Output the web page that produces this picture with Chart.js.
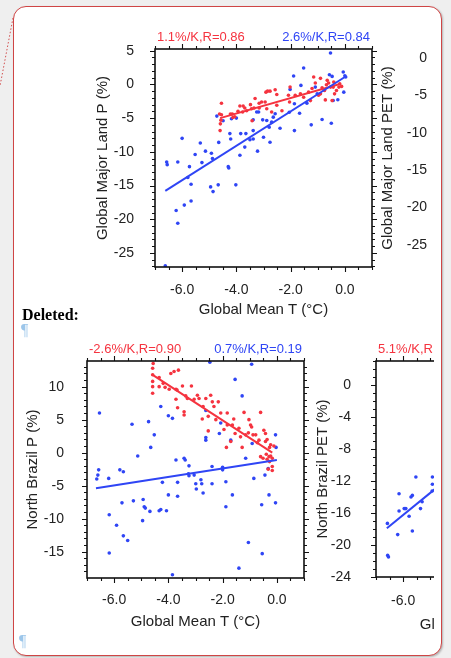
<!DOCTYPE html>
<html>
<head>
<meta charset="utf-8">
<script src="https://cdn.jsdelivr.net/npm/chart.js@4.4.0/dist/chart.umd.min.js"></script>
<style>
  body { margin: 0; background: #efefef; }
  #page { position: relative; width: 451px; height: 658px; overflow: hidden; background: #efefef; }
  .box { position: absolute; left: 13px; top: 6px; width: 427px; height: 648px; background: #fff;
         border: 1px solid #cf4545; border-radius: 13px; box-shadow: 1px 1px 2px rgba(0,0,0,0.25); }
  .deleted { position: absolute; left: 22px; top: 306px; font: bold 16px "Liberation Serif", "Times New Roman", serif; color: #000; }
  .pil { position: absolute; font: 16px "Liberation Serif", serif; color: #9cc6ea; }
  canvas { position: absolute; }
  #wrap3 { position: absolute; left: 300px; top: 330px; width: 134px; height: 328px; overflow: hidden; }
</style>
</head>
<body>
<div id="page">
  <div class="box"></div>
  <svg width="451" height="658" style="position:absolute;left:0;top:0">
    <line x1="13" y1="18" x2="0" y2="86" stroke="#d25050" stroke-width="1" stroke-dasharray="1.5 2"/>
  </svg>
  <canvas id="c1" width="451" height="330" style="left:0;top:0"></canvas>
  <div class="deleted">Deleted:</div>
  <div class="pil" style="left:21px;top:321px">¶</div>
  <canvas id="c2" width="451" height="328" style="left:0;top:330px"></canvas>
  <div id="wrap3"><canvas id="c3" width="300" height="328" style="left:0;top:0"></canvas></div>
  <div class="pil" style="left:19px;top:632px">¶</div>
</div>
<script>
const RED = '#f5333f';
const BLUE = '#2f45f5';
const FONT = '"Liberation Sans", Arial, Helvetica, sans-serif';

const xTicks = [-6, -4, -2, 0];

// Global major land
const gmlPTicks = [5, 0, -5, -10, -15, -20, -25];
const gmlPetTicks = [0, -5, -10, -15, -20, -25];
const gmlNotes = ['1.1%/K,R=0.86', '2.6%/K,R=0.84'];
const gmlRed = [[-4.55,-2.8],[-4.62,-4.4],[-4.55,-4.5],[-4.59,-5.85],[-4.6,-6.85],[-4.57,-5.3],[-4.22,-4.4],[-4.15,-4.4],
  [-4.13,-4.9],[-4.06,-4.8],[-3.94,-4.0],[-3.87,-3.2],[-3.75,-3.2],[-3.77,-4.1],[-3.69,-3.5],[-3.62,-3.9],[-3.48,-3.0],
  [-3.42,-5.4],[-3.35,-3.5],[-3.31,-2.1],[-3.16,-3.5],[-3.44,-3.6],[-3.16,-2.8],[-3.07,-2.6],[-2.94,-2.6],[-2.91,-1.15],
  [-2.85,-1.0],[-2.76,-1.0],[-2.57,-0.8],[-2.88,-3.6],[-2.7,-4.1],[-2.51,-1.5],[-2.51,-3.1],[-2.32,-3.9],[-2.08,-1.6],
  [-2.02,-0.4],[-2.04,-2.6],[-1.83,-1.6],[-1.64,-1.4],[-1.52,-1.9],[-1.34,-1.15],[-1.27,-2.4],[-1.21,-0.6],[-1.15,1.1],
  [-1.09,0.2],[-0.97,-1.6],[-0.9,-1.4],[-0.9,0.9],[-0.84,-0.5],[-0.75,-0.9],[-0.72,-2.3],[-0.68,-0.05],[-0.65,0.6],
  [-0.6,0.2],[-0.53,-0.4],[-0.47,-2.4],[-0.43,-0.4],[-0.41,0.35],[-0.38,-1.4],[-0.31,-0.9],[-0.22,-0.4],[-0.19,0.1],[-0.12,-0.3]];
const gmlBlue = [[-6.62,-26.9],[-6.57,-11.5],[-6.55,-11.9],[-6.16,-11.5],[-6.22,-18.7],[-6.16,-20.6],[-6.0,-8.0],
  [-5.92,-17.9],[-5.79,-13.8],[-5.73,-12.2],[-5.67,-14.8],[-5.67,-17.3],[-5.52,-10.4],[-5.33,-8.7],[-5.27,-11.6],
  [-5.14,-9.9],[-4.95,-15.2],[-4.92,-10.2],[-4.88,-11.0],[-4.86,-15.9],[-4.72,-4.7],[-4.67,-14.9],[-4.65,-8.6],
  [-4.49,-5.4],[-4.3,-12.2],[-4.28,-12.4],[-4.24,-7.3],[-4.21,-8.1],[-4.18,-5.1],[-4.02,-14.9],[-4.0,-5.0],[-3.87,-10.5],
  [-3.84,-7.3],[-3.65,-7.3],[-3.69,-9.3],[-3.25,-4.1],[-3.18,-4.1],[-3.38,-6.85],[-3.38,-8.1],[-3.22,-9.9],[-3.5,-8.2],
  [-3.38,-5.26],[-3.03,-5.26],[-3.0,-7.84],[-2.88,-5.36],[-2.79,-6.35],[-2.76,-8.58],[-2.7,-5.6],[-2.64,-4.86],
  [-2.57,-4.36],[-2.39,-6.5],[-2.05,-4.12],[-1.67,-4.27],[-1.86,-6.85],[-1.86,-2.87],[-1.4,-2.78],[-2.02,-0.74],
  [-1.89,1.24],[-1.62,-0.15],[-1.52,2.43],[-1.24,-6.0],[-1.09,-0.4],[-1.02,-1.38],[-0.84,-5.2],[-0.57,1.44],[-0.53,4.66],
  [-0.5,-5.76],[-0.47,1.19],[-0.43,-2.38],[-0.26,-2.28],[-0.06,1.83],[0.0,1.29],[0.03,1.09],[-0.04,-1.15]];
const gmlRedFit = [[-4.6,-5.0],[-0.15,0.1]];
const gmlBlueFit = [[-6.62,-15.8],[0.0,1.1]];

// North Brazil
const nbPTicks = [10, 5, 0, -5, -10, -15];
const nbPetTicks = [0, -4, -8, -12, -16, -20, -24];
const nbNotes = ['-2.6%/K,R=0.90', '0.7%/K,R=0.19'];
const nbPetNotes = ['5.1%/K,R'];
const nbRed = [[-4.56,13.5],[-4.58,12.8],[-4.58,11.8],[-4.58,10.8],[-4.58,10.0],[-4.58,9.0],[-4.34,11.4],[-4.34,10.0],
  [-4.19,10.5],[-4.12,9.9],[-3.97,9.6],[-3.91,12.0],[-3.79,12.3],[-3.63,12.5],[-3.72,9.6],[-3.68,9.5],[-3.72,8.1],
  [-3.66,6.8],[-3.42,6.2],[-3.42,5.7],[-3.48,10.1],[-3.36,8.6],[-3.3,8.2],[-3.15,10.1],[-3.05,8.1],[-2.93,8.7],[-2.87,8.2],
  [-2.75,5.1],[-2.72,7.0],[-2.62,8.2],[-2.53,5.5],[-2.44,8.7],[-2.38,7.7],[-2.53,3.3],[-2.32,7.0],[-2.16,7.7],[-2.25,5.0],
  [-2.07,6.0],[-1.95,3.5],[-1.83,4.2],[-1.64,4.2],[-1.83,6.0],[-1.59,5.1],[-1.86,0.8],[-1.7,1.7],[-1.54,2.9],[-1.4,3.7],
  [-1.34,2.4],[-1.28,0.8],[-1.21,6.1],[-1.03,5.0],[-1.15,2.7],[-1.05,3.0],[-0.97,4.2],[-0.93,3.9],[-0.88,2.7],[-0.78,2.7],
  [-0.72,1.5],[-0.66,1.9],[-0.6,6.1],[-0.6,-0.6],[-0.51,-0.85],[-0.48,3.4],[-0.42,2.9],[-0.42,1.7],[-0.36,2.0],
  [-0.39,-0.25],[-0.36,-1.0],[-0.29,-0.6],[-0.23,-0.5],[-0.17,-0.85],[-0.27,-1.35],[-0.17,-2.1],[-0.32,-2.5],[-0.17,-2.7],
  [-0.27,0.8],[-0.23,1.2],[-0.11,1.0]];
const nbBlue = [[-6.54,6.0],[-6.57,-2.6],[-6.6,-3.4],[-6.64,-4.0],[-6.2,-3.9],[-6.18,-9.4],[-6.18,-15.2],[-5.91,-11.0],
  [-5.79,-2.6],[-5.66,-2.9],[-5.71,-7.6],[-5.66,-12.6],[-5.5,-13.3],[-5.34,4.3],[-5.29,-7.3],[-5.13,-0.5],[-4.93,-7.1],
  [-4.89,-8.2],[-4.85,-8.4],[-4.95,-10.3],[-4.73,4.7],[-4.68,-8.9],[-4.65,0.8],[-4.52,2.7],[-4.34,-8.8],[-4.28,-8.6],
  [-4.28,7.0],[-4.22,-4.5],[-4.07,-8.8],[-4.0,5.6],[-4.0,-6.4],[-3.85,5.2],[-3.85,-18.5],[-3.72,-1.1],[-3.66,-4.5],
  [-3.66,-6.6],[-3.42,-0.85],[-3.38,-1.1],[-3.26,-3.2],[-3.24,-3.5],[-3.24,-2.0],[-3.05,-3.4],[-2.99,-4.7],[-2.97,-5.5],
  [-2.8,-4.1],[-2.77,-4.7],[-2.72,-6.1],[-2.62,2.3],[-2.62,1.9],[-2.62,6.4],[-2.47,13.7],[-2.39,-2.1],[-2.39,-4.7],
  [-2.12,2.9],[-2.07,4.5],[-2.0,-2.2],[-2.0,-2.6],[-1.88,-4.4],[-1.88,-8.2],[-1.7,1.9],[-1.64,-6.4],[-1.54,11.1],
  [-1.4,-17.5],[-1.28,8.6],[-1.15,-0.85],[-1.05,-13.6],[-0.93,13.4],[-0.91,1.4],[-0.85,-3.9],[-0.56,-7.9],[-0.54,-15.3],
  [-0.44,-3.4],[-0.29,-6.4],[-0.32,-2.4],[-0.05,2.7],[-0.03,0.8],[-0.05,-7.6]];
const nbRedFit = [[-4.58,11.8],[-0.17,0.0]];
const nbBlueFit = [[-6.67,-5.4],[0.0,-1.1]];
const nbPetBlue = [[-6.58,-17.3],[-6.57,-21.3],[-6.54,-21.5],[-6.15,-13.6],[-6.2,-18.7],[-6.15,-15.75],[-5.96,-15.45],
  [-5.9,-15.45],[-5.78,-16.4],[-5.71,-14.0],[-5.66,-13.8],[-5.66,-18.25],[-5.53,-11.5],[-5.36,-15.45],[-5.3,-14.6],
  [-4.92,-11.5],[-4.92,-12.4],[-4.93,-13.25]];
const nbPetBlueFit = [[-6.6,-17.9],[-4.75,-12.8]];

function pts(arr) {
  return arr.map(function(p) { return {x: p[0], y: p[1]}; });
}
function dots(arr, color) {
  return {data: pts(arr), pointRadius: 1.8, pointBorderWidth: 0, backgroundColor: color, borderColor: color, showLine: false};
}
function fit(arr, color) {
  return {data: pts(arr), pointRadius: 0, borderWidth: 2, borderColor: color, showLine: true};
}
function fixTicks(list) {
  return function(s) { s.ticks = list.map(function(v) { return {value: v}; }); };
}

// NCL style frame: box, outward major/minor ticks on all sides, the two slope notes
const nclFrame = {
  id: 'nclFrame',
  afterDraw(chart, args, o) {
    const ctx = chart.ctx, a = chart.chartArea;
    const sx = chart.scales.x, sy = chart.scales.y;
    ctx.save();
    ctx.strokeStyle = '#111';
    ctx.lineWidth = 1.1;
    ctx.beginPath();
    function isMajor(v, step) { return Math.abs(v / step - Math.round(v / step)) < 1e-6; }
    for (let v = Math.ceil(sx.min / o.xMinor) * o.xMinor; v <= sx.max + 1e-9; v += o.xMinor) {
      const p = Math.round(sx.getPixelForValue(v)) + 0.5;
      const len = isMajor(v, o.xMajor) ? 5 : 3;
      ctx.moveTo(p, a.bottom); ctx.lineTo(p, a.bottom + len);
      ctx.moveTo(p, a.top); ctx.lineTo(p, a.top - len);
    }
    for (let v = Math.ceil(sy.min / o.yMinor) * o.yMinor; v <= sy.max + 1e-9; v += o.yMinor) {
      const p = Math.round(sy.getPixelForValue(v)) + 0.5;
      const len = isMajor(v, o.yMajor) ? 5 : 3;
      ctx.moveTo(a.left, p); ctx.lineTo(a.left - len, p);
      ctx.moveTo(a.right, p); ctx.lineTo(a.right + len, p);
    }
    ctx.stroke();
    ctx.lineWidth = 1.6;
    ctx.strokeRect(a.left, a.top, a.right - a.left, a.bottom - a.top);

    ctx.font = '13px ' + FONT;
    ctx.textBaseline = 'middle';
    if (o.notes[0]) { ctx.fillStyle = RED; ctx.textAlign = 'left'; ctx.fillText(o.notes[0], a.left + 2, a.top - 12); }
    if (o.notes[1]) { ctx.fillStyle = BLUE; ctx.textAlign = 'right'; ctx.fillText(o.notes[1], a.right - 2, a.top - 12); }

    if (o.rightTitle) {
      ctx.translate(o.rightTitle.x, (a.top + a.bottom) / 2);
      ctx.rotate(-Math.PI / 2);
      ctx.font = '15px ' + FONT;
      ctx.fillStyle = '#222';
      ctx.textAlign = 'center';
      ctx.fillText(o.rightTitle.text, 0, 0);
    }
    ctx.restore();
  }
};

function xScale(height, labelPad, titlePad, title) {
  return {
    type: 'linear', min: -7, max: 1,
    grid: {display: false}, border: {display: false},
    afterBuildTicks: fixTicks(xTicks),
    afterFit: function(s) { s.height = height; },
    ticks: {padding: labelPad, color: '#222', font: {family: FONT, size: 14},
      callback: function(v) { return v.toFixed(1); }},
    title: {display: true, text: title, color: '#222', font: {family: FONT, size: 15}, padding: {top: 0, bottom: titlePad}}
  };
}
function yScale(min, max, ticks, width, labelPad, titlePad, title) {
  return {
    type: 'linear', min: min, max: max,
    grid: {display: false}, border: {display: false},
    afterBuildTicks: fixTicks(ticks),
    afterFit: function(s) { s.width = width; },
    ticks: {padding: labelPad, color: '#222', font: {family: FONT, size: 14}},
    title: {display: true, text: title, color: '#222', font: {family: FONT, size: 15}, padding: {top: titlePad, bottom: 0}}
  };
}
function baseOptions(padding, frame) {
  return {
    responsive: false, animation: false,
    layout: {padding: padding},
    plugins: {legend: {display: false}, tooltip: {enabled: false}, nclFrame: frame},
    scales: {}
  };
}

// chart 1
var opt1 = baseOptions({left: 0, top: 49, right: 24, bottom: 0},
  {xMinor: 0.5, xMajor: 2, yMinor: 1, yMajor: 5, notes: gmlNotes, rightTitle: {text: 'Global Major Land PET (%)', x: 388}});
opt1.scales.x = xScale(63, 7, 11, 'Global Mean T (°C)');
opt1.scales.y = yScale(-27.08, 5.25, gmlPTicks, 155, 13, 94, 'Global Major Land P (%)');
opt1.scales.y2 = {
  type: 'linear', position: 'right', min: -27.94, max: 1.2,
  grid: {display: false}, border: {display: false},
  afterBuildTicks: fixTicks(gmlPetTicks),
  afterFit: function(s) { s.width = 55; },
  ticks: {crossAlign: 'far', color: '#222', font: {family: FONT, size: 14}}
};
new Chart(document.getElementById('c1'), {
  type: 'scatter',
  data: {datasets: [fit(gmlBlueFit, BLUE), fit(gmlRedFit, RED), dots(gmlRed, RED), dots(gmlBlue, BLUE)]},
  options: opt1,
  plugins: [nclFrame]
});

// chart 2
var opt2 = baseOptions({left: 0, top: 31, right: 147, bottom: 0},
  {xMinor: 0.5, xMajor: 2, yMinor: 1, yMajor: 5, notes: nbNotes});
opt2.scales.x = xScale(80, 6, 27, 'Global Mean T (°C)');
opt2.scales.y = yScale(-18.99, 13.89, nbPTicks, 87, 15, 24, 'North Brazil P (%)');
new Chart(document.getElementById('c2'), {
  type: 'scatter',
  data: {datasets: [fit(nbBlueFit, BLUE), fit(nbRedFit, RED), dots(nbRed, RED), dots(nbBlue, BLUE)]},
  options: opt2,
  plugins: [nclFrame]
});

// chart 3, cut off by the comment box
var opt3 = baseOptions({left: 0, top: 31, right: 7, bottom: 0},
  {xMinor: 0.5, xMajor: 2, yMinor: 1, yMajor: 4, notes: nbPetNotes});
opt3.scales.x = xScale(81, 8, 24, 'Global Mean T (°C)');
opt3.scales.y = yScale(-24, 3, nbPetTicks, 76, 17, 14, 'North Brazil PET (%)');
new Chart(document.getElementById('c3'), {
  type: 'scatter',
  data: {datasets: [fit(nbPetBlueFit, BLUE), dots(nbPetBlue, BLUE)]},
  options: opt3,
  plugins: [nclFrame]
});
</script>
</body>
</html>
